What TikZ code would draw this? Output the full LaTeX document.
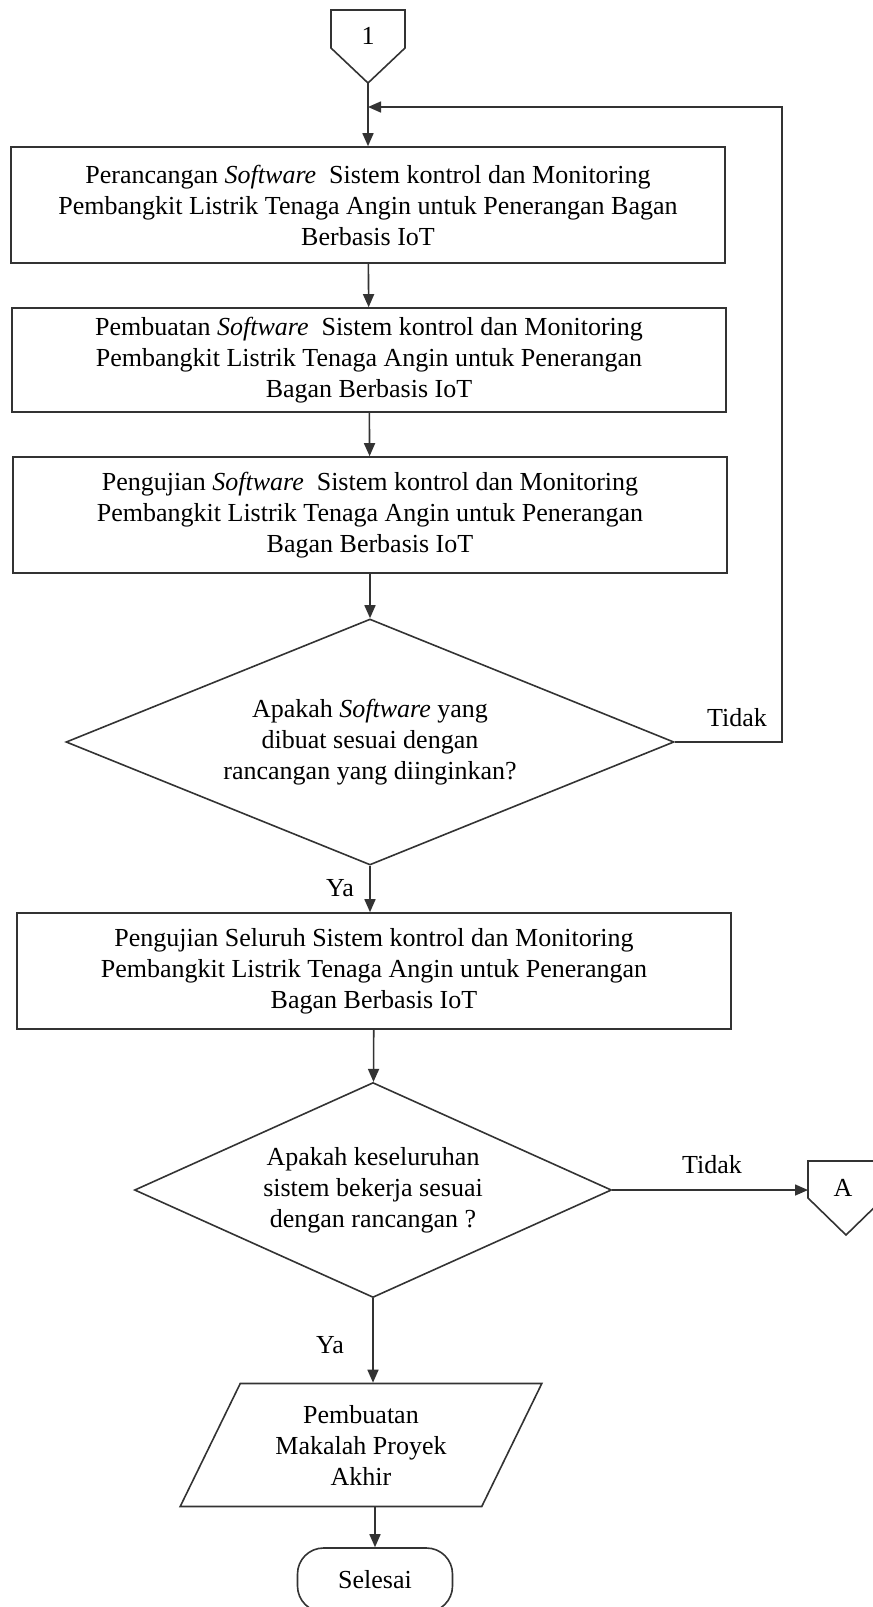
\documentclass[tikz,border=0pt]{standalone}
\usepackage{fontspec}
\setmainfont{Liberation Serif}
\usetikzlibrary{arrows.meta, positioning, calc, shapes.geometric}

\begin{document}
\begin{tikzpicture}[x=0.5pt, y=-0.5pt,
  every node/.style={font=\fontsize{13pt}{15.5pt}\selectfont},
  ln/.style={draw=black!80, line width=0.8pt},
  arr/.style={ln, -{Triangle[length=6.5pt, width=5.5pt]}},
  proc/.style={ln, rectangle, align=center, minimum width=357pt, minimum height=58pt, inner sep=0pt},
  dec/.style={ln, diamond, align=center, inner sep=0pt},
  io/.style={ln, trapezium, trapezium left angle=62, trapezium right angle=118, trapezium stretches=true, align=center, inner sep=0pt},
  term/.style={ln, rectangle, rounded corners=13pt, align=center, minimum width=77.5pt, minimum height=32pt}]
  \useasboundingbox (0,0) rectangle (873,1607);
  \clip (0,0) rectangle (873,1607);

  % connector 1
  \draw[ln] (331,10) -- (405,10) -- (405,48) -- (368,83) -- (331,48) -- cycle;
  \node (off1) at (368,36) {1};
  \coordinate (off1tip) at (368,83);
  \coordinate (join) at (368,107);

  \node[proc] (box1) at (368,205) {Perancangan \textit{Software}\ \ Sistem kontrol dan Monitoring\\
    Pembangkit Listrik Tenaga Angin untuk Penerangan Bagan\\ Berbasis IoT};
  \node[proc, minimum height=52pt] (box2) at (369,360) {Pembuatan \textit{Software}\ \ Sistem kontrol dan Monitoring\\
    Pembangkit Listrik Tenaga Angin untuk Penerangan\\ Bagan Berbasis IoT};
  \node[proc] (box3) at (370,515) {Pengujian \textit{Software}\ \ Sistem kontrol dan Monitoring\\
    Pembangkit Listrik Tenaga Angin untuk Penerangan\\ Bagan Berbasis IoT};
  \node[dec, aspect=2.47, minimum width=304pt, minimum height=123pt] (dec1) at (370,742) {Apakah \textit{Software} yang\\
    dibuat sesuai dengan\\ rancangan yang diinginkan?};
  \node[proc] (box4) at (374,971) {Pengujian Seluruh Sistem kontrol dan Monitoring\\
    Pembangkit Listrik Tenaga Angin untuk Penerangan\\ Bagan Berbasis IoT};
  \node[dec, aspect=2.22, minimum width=238.5pt, minimum height=107.5pt] (dec2) at (373,1190) {Apakah keseluruhan\\
    sistem bekerja sesuai\\ dengan rancangan ?};
  \node[io, minimum width=181pt, minimum height=61.5pt] (doc) at (361,1445) {Pembuatan\\ Makalah Proyek\\ Akhir};
  \node[term] (stop) at (375,1580) {Selesai};

  % connector A
  \draw[ln] (808,1161) -- (884,1161) -- (884,1198) -- (846,1235) -- (808,1198) -- cycle;
  \node (offA) at (843,1188) {A};
  \coordinate (offAin) at (808,1190);

  % labels
  \node (tidak1) at (737,718) {Tidak};
  \node (tidak2) at (712,1165) {Tidak};
  \node (ya1) at (340,888) {Ya};
  \node (ya2) at (330,1345) {Ya};

  % connectors
  \draw[arr] (off1tip) -- (box1);
  \draw[arr] (box1) -- (box2);
  \draw[arr] (box2) -- (box3);
  \draw[arr] (box3) -- (dec1);
  \draw[arr] (dec1.east) -- ++(107,0) |- (join);
  \draw[arr] (dec1.south) -- (dec1.south |- box4.north);
  \draw[arr] (box4) -- (dec2);
  \draw[arr] (dec2.east) -- (offAin);
  \draw[arr] (dec2.south) -- (dec2.south |- doc.north);
  \draw[arr] (doc.south -| stop.north) -- (stop.north);
\end{tikzpicture}
\end{document}
